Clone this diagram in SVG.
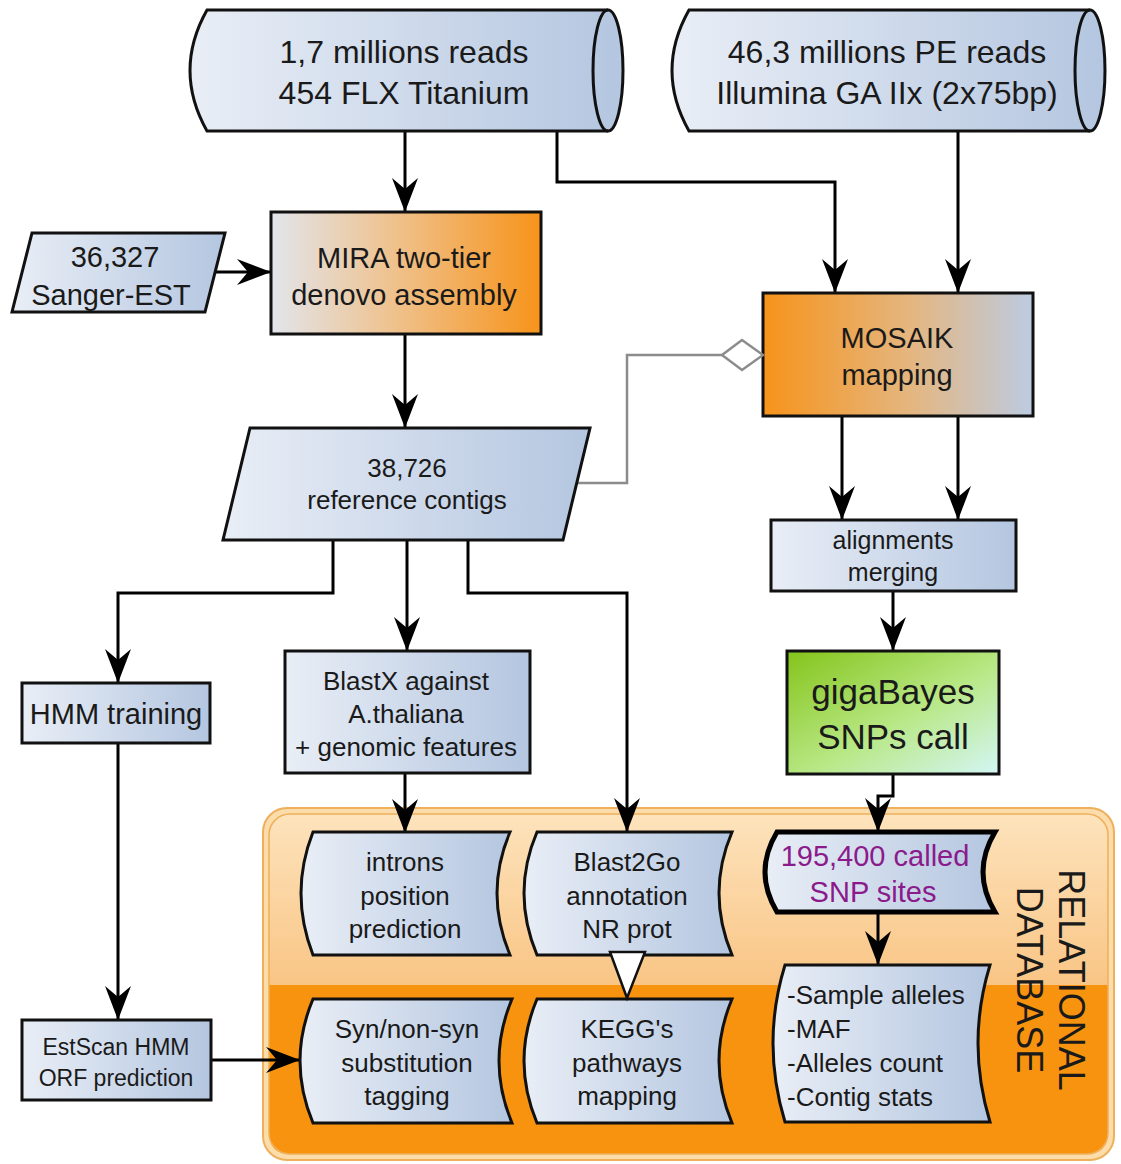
<svg xmlns="http://www.w3.org/2000/svg" width="1121" height="1164" viewBox="0 0 1121 1164">
<defs>
<linearGradient id="gBlue" x1="0" y1="0" x2="1" y2="0"><stop offset="0" stop-color="#e9eef6"/><stop offset="1" stop-color="#b4c6e0"/></linearGradient>
<linearGradient id="gMira" x1="0" y1="0" x2="1" y2="0"><stop offset="0" stop-color="#e2e5ec"/><stop offset="0.45" stop-color="#efc28e"/><stop offset="1" stop-color="#f7931a"/></linearGradient>
<linearGradient id="gMosaik" x1="0" y1="0" x2="1" y2="0"><stop offset="0" stop-color="#f7931a"/><stop offset="0.55" stop-color="#e4b680"/><stop offset="1" stop-color="#bccbe2"/></linearGradient>
<linearGradient id="gGreen" x1="0" y1="0" x2="1" y2="1"><stop offset="0" stop-color="#84c41a"/><stop offset="0.55" stop-color="#b8e886"/><stop offset="1" stop-color="#d4f6f6"/></linearGradient>
<linearGradient id="gDbTop" x1="0" y1="0" x2="0" y2="1"><stop offset="0" stop-color="#fde3bc"/><stop offset="1" stop-color="#f9c585"/></linearGradient>
<marker id="arr" viewBox="-36 -15 37 30" refX="0" refY="0" markerWidth="37" markerHeight="30" markerUnits="userSpaceOnUse" orient="auto">
<path d="M0,0 L-34,-13 L-23,0 L-34,13 Z" fill="#000"/>
</marker>
</defs>
<style>
.nd{stroke:#111;stroke-width:3;fill:url(#gBlue)}
.t{font-family:"Liberation Sans",Arial,sans-serif;fill:#1a1a1a;text-anchor:middle}
.c{fill:none;stroke:#000;stroke-width:3;marker-end:url(#arr)}
.g{fill:none;stroke:#8c8c8c;stroke-width:2.5}
</style>
<rect width="1121" height="1164" fill="#fff"/>

<g id="database">
<rect x="263" y="808" width="851" height="352" rx="24" fill="#fbdcaa" stroke="#eeb05a" stroke-width="2"/>
<path d="M290,814 H1086 Q1108,814 1108,836 V985 H269 V836 Q269,814 290,814 Z" fill="url(#gDbTop)"/>
<path d="M269,985 H1108 V1132 Q1108,1154 1086,1154 H290 Q269,1154 269,1132 Z" fill="#f7930f"/>
<rect x="269" y="814" width="839" height="340" rx="21" fill="none" stroke="#eeb05a" stroke-width="1.5"/>
<text class="t" font-size="36" transform="translate(1040,980) rotate(90)"><tspan x="0" y="-19">RELATIONAL</tspan><tspan x="0" y="23">DATABASE</tspan></text>
</g>

<g id="connectors">
<path class="c" d="M405,131 V212"/>
<path class="c" d="M557,131 V182 H835 V293"/>
<path class="c" d="M958,131 V293"/>
<path class="c" d="M214,272 H271"/>
<path class="c" d="M405,334 V428"/>
<path class="g" d="M577,483 H627 V355 H722"/>
<path class="c" d="M333,540 V593 H118 V683"/>
<path class="c" d="M407,540 V651"/>
<path class="c" d="M468,540 V593 H627 V832"/>
<path class="c" d="M842,416 V520"/>
<path class="c" d="M958,416 V520"/>
<path class="c" d="M893,591 V651"/>
<path class="c" d="M893,774 V796 H878 V832"/>
<path class="c" d="M878,912 V965"/>
<path class="c" d="M118,743 V1020"/>
<path class="c" d="M211,1060 H300"/>
<path class="c" d="M405,773 V833"/>
</g>

<g id="reads454">
<path class="nd" d="M207,10 H608 A15,60.5 0 0 1 608,131 H207 Q173,70.5 207,10 Z"/>
<path d="M608,10 A15,60.5 0 0 0 608,131" fill="none" stroke="#111" stroke-width="3"/>
<text class="t" font-size="32" x="404" y="63">1,7 millions reads</text>
<text class="t" font-size="32" x="404" y="104">454 FLX Titanium</text>
</g>

<g id="readsIllumina">
<path class="nd" d="M689,10 H1090 A15,60.5 0 0 1 1090,131 H689 Q655,70.5 689,10 Z"/>
<path d="M1090,10 A15,60.5 0 0 0 1090,131" fill="none" stroke="#111" stroke-width="3"/>
<text class="t" font-size="32" x="887" y="63">46,3 millions PE reads</text>
<text class="t" font-size="32" x="887" y="104">Illumina GA IIx (2x75bp)</text>
</g>

<g id="sanger">
<path class="nd" d="M32,233 H225 L205,312 H12 Z"/>
<text class="t" font-size="29" x="115" y="267">36,327</text>
<text class="t" font-size="29" x="111" y="305">Sanger-EST</text>
</g>

<g id="mira">
<rect x="271" y="212" width="270" height="122" fill="url(#gMira)" stroke="#111" stroke-width="3"/>
<text class="t" font-size="29" x="404" y="268">MIRA two-tier</text>
<text class="t" font-size="29" x="404" y="305">denovo assembly</text>
</g>

<g id="mosaik">
<rect x="763" y="293" width="270" height="123" fill="url(#gMosaik)" stroke="#111" stroke-width="3"/>
<text class="t" font-size="29" x="897" y="348">MOSAIK</text>
<text class="t" font-size="29" x="897" y="385">mapping</text>
<path d="M722,355 L742,340 L763,355 L742,370 Z" fill="#fff" stroke="#8c8c8c" stroke-width="2.5"/>
</g>

<g id="contigs">
<path class="nd" d="M250,428 H590 L563,540 H223 Z"/>
<text class="t" font-size="26" x="407" y="477">38,726</text>
<text class="t" font-size="26" x="407" y="509">reference contigs</text>
</g>

<g id="alignments">
<rect class="nd" x="771" y="520" width="245" height="71"/>
<text class="t" font-size="25" x="893" y="549">alignments</text>
<text class="t" font-size="25" x="893" y="581">merging</text>
</g>

<g id="gigabayes">
<rect x="787" y="651" width="212" height="123" fill="url(#gGreen)" stroke="#111" stroke-width="3"/>
<text class="t" font-size="35" x="893" y="704">gigaBayes</text>
<text class="t" font-size="35" x="893" y="749">SNPs call</text>
</g>

<g id="hmm">
<rect class="nd" x="22" y="683" width="188" height="60"/>
<text class="t" font-size="29" x="116" y="724">HMM training</text>
</g>

<g id="blastx">
<rect class="nd" x="285" y="651" width="245" height="122"/>
<text class="t" font-size="26" x="406" y="690">BlastX against</text>
<text class="t" font-size="26" x="406" y="723">A.thaliana</text>
<text class="t" font-size="26" x="406" y="756">+ genomic features</text>
</g>

<g id="estscan">
<rect class="nd" x="22" y="1020" width="189" height="80"/>
<text class="t" font-size="23" x="116" y="1055">EstScan HMM</text>
<text class="t" font-size="23" x="116" y="1086">ORF prediction</text>
</g>

<g id="introns">
<path class="nd" d="M313,832 H510 Q484,893 510,955 H313 Q289,893 313,832 Z"/>
<text class="t" font-size="26" x="405" y="871">introns</text>
<text class="t" font-size="26" x="405" y="905">position</text>
<text class="t" font-size="26" x="405" y="938">prediction</text>
</g>

<g id="blast2go">
<path class="nd" d="M537,832 H732 Q706,893 732,955 H537 Q511,893 537,832 Z"/>
<text class="t" font-size="26" x="627" y="871">Blast2Go</text>
<text class="t" font-size="26" x="627" y="905">annotation</text>
<text class="t" font-size="26" x="627" y="938">NR prot</text>
</g>

<g id="syn">
<path class="nd" d="M313,999 H512 Q486,1061 512,1123 H313 Q287,1061 313,999 Z"/>
<text class="t" font-size="26" x="407" y="1038">Syn/non-syn</text>
<text class="t" font-size="26" x="407" y="1072">substitution</text>
<text class="t" font-size="26" x="407" y="1105">tagging</text>
</g>

<g id="kegg">
<path class="nd" d="M537,999 H732 Q706,1061 732,1123 H537 Q511,1061 537,999 Z"/>
<text class="t" font-size="26" x="627" y="1038">KEGG's</text>
<text class="t" font-size="26" x="627" y="1072">pathways</text>
<text class="t" font-size="26" x="627" y="1105">mapping</text>
</g>

<g id="b2g-kegg">
<path d="M610,952 H645 L627,998 Z" fill="#fff" stroke="#111" stroke-width="2.5" stroke-linejoin="miter"/>
</g>

<g id="snpsites">
<path d="M777,832 H995 Q971,872 995,912 H777 Q753,872 777,832 Z" fill="url(#gBlue)" stroke="#000" stroke-width="5"/>
<text class="t" font-size="29" x="875" y="866" style="fill:#8b1a8b">195,400 called</text>
<text class="t" font-size="29" x="873" y="902" style="fill:#8b1a8b">SNP sites</text>
</g>

<g id="stats">
<path class="nd" d="M785,965 H990 Q966,1043 990,1122 H785 Q761,1043 785,965 Z"/>
<text class="t" font-size="26" x="787" y="1004" style="text-anchor:start">-Sample alleles</text>
<text class="t" font-size="26" x="787" y="1038" style="text-anchor:start">-MAF</text>
<text class="t" font-size="26" x="787" y="1072" style="text-anchor:start">-Alleles count</text>
<text class="t" font-size="26" x="787" y="1106" style="text-anchor:start">-Contig stats</text>
</g>
</svg>
